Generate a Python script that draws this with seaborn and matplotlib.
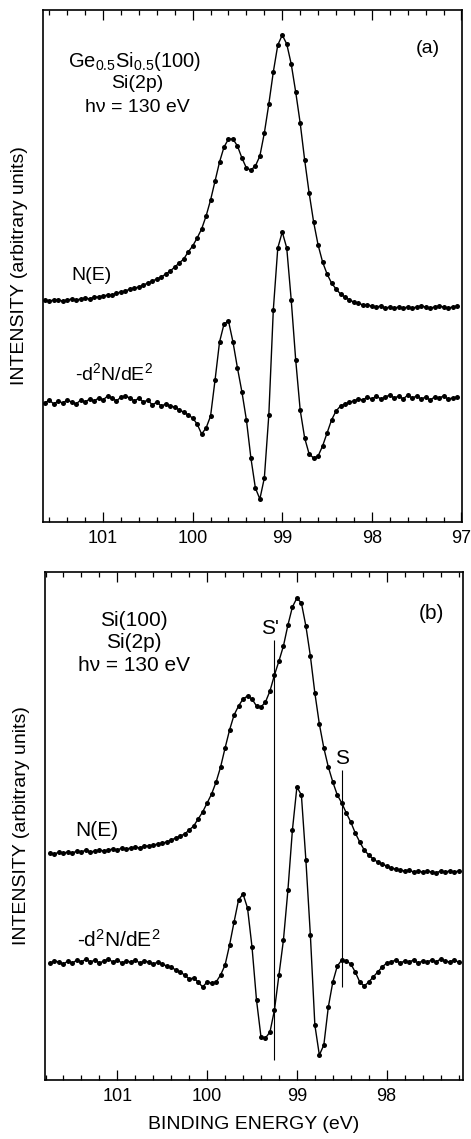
import numpy as np
import pandas as pd
import seaborn as sns
import matplotlib
matplotlib.use('Agg')
import matplotlib.pyplot as plt
from matplotlib.ticker import MultipleLocator, FormatStrFormatter

# energy grid of the two spectra (eV), 0.05 eV steps
energy_a = np.round(np.arange(101.65, 97.04, -0.05), 2)
energy_b = np.round(np.arange(101.75, 97.19, -0.05), 2)

# (a) Ge0.5Si0.5(100), Si(2p) (arbitrary units)
nE_a = [214, 213, 214, 214, 213, 214, 215, 214, 215, 216, 215, 217, 217, 218,
        219, 219, 221, 222, 223, 225, 226, 227, 229, 231, 233, 235, 237, 240, 243, 247, 251, 255, 262, 268,
        276, 285, 298, 314, 333, 352, 367, 375, 375, 368, 356, 346, 344, 348, 358, 381, 410, 442, 469, 479,
        470, 450, 422, 391, 354, 321, 292, 269, 252, 240, 231, 225, 220, 217, 214, 212, 211, 209, 209, 208,
        207, 208, 206, 207, 206, 207, 206, 207, 206, 207, 208, 207, 206, 207, 208, 207, 206, 207, 208]
d2_a = [111, 114, 110, 113, 111, 114, 112, 110, 114, 112, 115, 113, 116, 114,
        118, 116, 113, 117, 118, 116, 113, 116, 112, 114, 109, 112, 108, 110, 108, 107, 104, 102, 99, 96,
        90, 80, 86, 98, 134, 172, 190, 193, 172, 146, 122, 94, 56, 26, 15, 36, 99, 204, 266, 282,
        266, 214, 154, 104, 76, 60, 56, 58, 68, 81, 94, 103, 108, 110, 112, 113, 115, 114, 117, 115,
        118, 115, 117, 119, 116, 118, 115, 119, 116, 118, 115, 117, 114, 117, 116, 118, 115, 116, 117]

# (b) Si(100), Si(2p)
nE_b = [227, 226, 228, 227, 228, 227, 229, 228, 230, 228, 229, 230, 229, 230, 231, 230,
        232, 231, 232, 233, 232, 234, 234, 235, 236, 237, 238, 240, 242, 244, 246, 250, 254, 261, 268, 277,
        286, 298, 313, 332, 350, 365, 374, 381, 384, 381, 374, 373, 378, 389, 405, 419, 434, 455, 473, 482,
        477, 454, 424, 387, 356, 332, 313, 298, 285, 277, 267, 258, 247, 238, 230, 225, 221, 218, 216, 214,
        212, 211, 210, 209, 210, 208, 209, 208, 209, 208, 207, 209, 208, 209, 208, 209]
d2_b = [117, 119, 118, 116, 119, 117, 120, 118, 121, 118, 120, 117, 119, 121, 118, 120,
        117, 119, 118, 120, 117, 119, 118, 116, 118, 116, 114, 113, 110, 108, 105, 101, 102, 98, 93, 98,
        97, 98, 105, 115, 135, 158, 180, 186, 172, 133, 80, 43, 42, 48, 70, 105, 140, 190, 250, 293,
        285, 220, 145, 55, 25, 35, 73, 98, 114, 120, 119, 116, 108, 98, 94, 98, 103, 108, 113, 117,
        118, 120, 117, 119, 118, 120, 117, 119, 118, 120, 118, 121, 119, 118, 120, 118]

# surface components marked in (b)
s_labels = ["S'", "S"]
s_energy = [99.26, 98.50]
s_top = [440, 310]
s_bottom = [20, 93]

df_a = pd.DataFrame({'energy': energy_a, 'nE': nE_a, 'd2': d2_a})
df_b = pd.DataFrame({'energy': energy_b, 'nE': nE_b, 'd2': d2_b})

sns.set_theme(style='ticks')
plt.rcParams['font.family'] = ['Liberation Sans', 'DejaVu Sans']
plt.rcParams['mathtext.fontset'] = 'custom'
plt.rcParams['mathtext.rm'] = 'Liberation Sans'
plt.rcParams['mathtext.default'] = 'regular'
plt.rcParams['text.color'] = 'black'
plt.rcParams['axes.labelcolor'] = 'black'
plt.rcParams['xtick.color'] = 'black'

fig = plt.figure(figsize=(4.71, 11.39), dpi=100)
ax_a = fig.add_axes([0.0913, 0.5417, 0.8904, 0.4495])
ax_b = fig.add_axes([0.0955, 0.0518, 0.8875, 0.446])

style = dict(color='black', linewidth=1.0, marker='o', markersize=3.6, markeredgewidth=0)
for ax, df in [(ax_a, df_a), (ax_b, df_b)]:
    sns.lineplot(data=df, x='energy', y='nE', ax=ax, **style)
    sns.lineplot(data=df, x='energy', y='d2', ax=ax, **style)
    ax.xaxis.set_major_locator(MultipleLocator(1))
    ax.xaxis.set_minor_locator(MultipleLocator(0.2))
    ax.xaxis.set_major_formatter(FormatStrFormatter('%d'))
    ax.set_yticks([])
    ax.tick_params(axis='x', which='major', direction='in', length=7, width=0.9,
                   top=True, bottom=True, labelsize=13, pad=6, colors='black')
    ax.tick_params(axis='x', which='minor', direction='in', length=3.6, width=0.9,
                   top=True, bottom=True)
    for sp in ax.spines.values():
        sp.set_linewidth(1.2)
        sp.set_color('black')
    ax.set_ylabel('INTENSITY (arbitrary units)', fontsize=14, labelpad=11)
    ax.set_xlabel('')

ax_a.set_xlim(101.67, 96.99)
ax_a.set_ylim(-8, 504)
ax_b.set_xlim(101.806, 97.15)
ax_b.set_ylim(0, 508)

# annotations (a)
ax_a.text(100.65, 453, 'Ge$_{0.5}$Si$_{0.5}$(100)', ha='center', va='center', fontsize=14.5)
ax_a.text(100.62, 431, 'Si(2p)', ha='center', va='center', fontsize=14)
ax_a.text(100.62, 407, 'h\u03bd = 130 eV', ha='center', va='center', fontsize=14)
ax_a.text(97.38, 466, '(a)', ha='center', va='center', fontsize=14)
ax_a.text(101.13, 239, 'N(E)', ha='center', va='center', fontsize=14)
ax_a.text(100.88, 141, '-d$^{2}$N/dE$^{2}$', ha='center', va='center', fontsize=14)

# annotations (b)
ax_b.text(100.82, 460, 'Si(100)', ha='center', va='center', fontsize=15)
ax_b.text(100.82, 438, 'Si(2p)', ha='center', va='center', fontsize=15)
ax_b.text(100.82, 415, 'h\u03bd = 130 eV', ha='center', va='center', fontsize=15)
ax_b.text(97.50, 467, '(b)', ha='center', va='center', fontsize=15)
ax_b.text(101.23, 250, 'N(E)', ha='center', va='center', fontsize=15)
ax_b.text(100.98, 140, '-d$^{2}$N/dE$^{2}$', ha='center', va='center', fontsize=15)
ax_b.vlines(s_energy, s_bottom, s_top, color='black', linewidth=0.8)
for lab, e, top in zip(s_labels, s_energy, s_top):
    ax_b.text(e + 0.04 if lab == "S'" else e, top + 12, lab, ha='center', va='center', fontsize=15)

ax_b.set_xlabel('BINDING ENERGY (eV)', fontsize=14, labelpad=8)

fig.savefig('out.png', dpi=100, facecolor='white')
